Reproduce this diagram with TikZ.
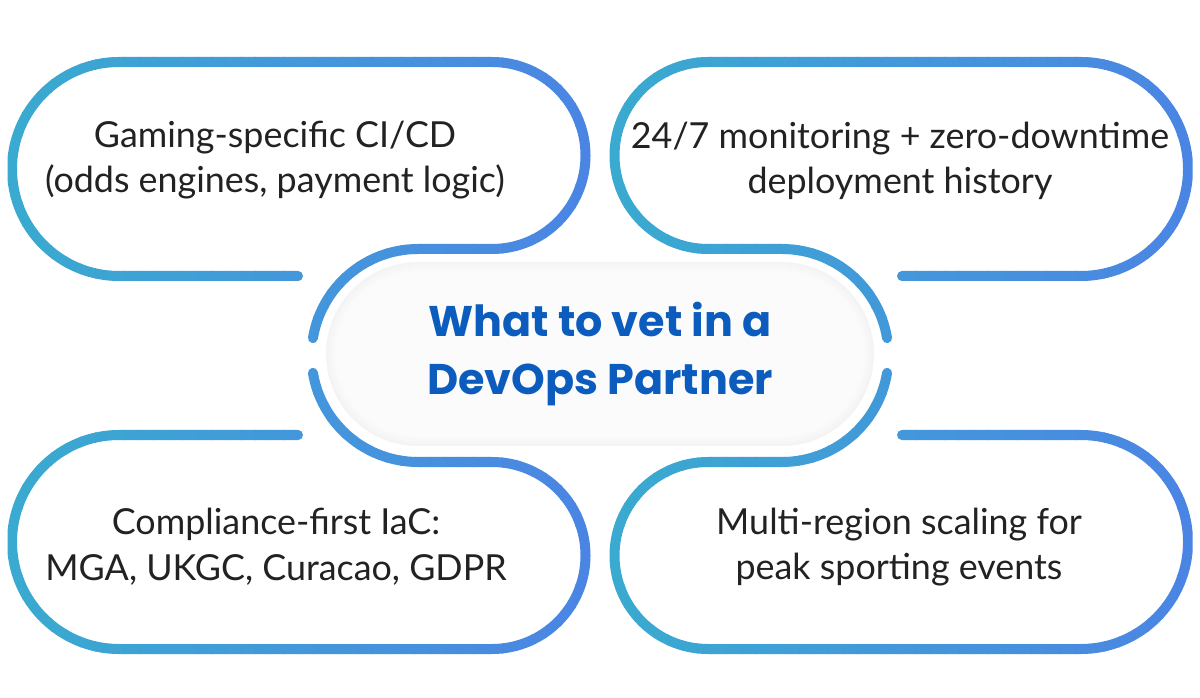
\documentclass[tikz,border=0pt]{standalone}
\usepackage{fontspec}
\setmainfont{Lato}
\newfontfamily\titlefont{Poppins}
\usepackage{tikz}
\definecolor{pillteal}{RGB}{58,170,208}
\definecolor{pillblue}{RGB}{75,133,228}
\definecolor{titleblue}{RGB}{12,92,190}
\definecolor{bodytext}{RGB}{34,34,34}
\tikzset{%
	pillline/.style  = {line width=0.25cm, line cap=round},
	pilltext/.style  = {align=center, text=bodytext, font=\fontsize{25.5}{32.5}\selectfont},
	titletext/.style = {align=center, text=titleblue, font=\titlefont\bfseries\fontsize{30.5}{41}\selectfont},
}
% stroke with a left-to-right colour ramp: xmin, xmax, path
\newcommand{\gradpath}[3]{%
	\foreach \i in {0,...,39}{
		\pgfmathsetmacro{\xa}{#1+(#2-#1)/40*\i-0.5}
		\pgfmathsetmacro{\xb}{#1+(#2-#1)/40*(\i+1)+0.5}
		\pgfmathtruncatemacro{\p}{100*\i/39}
		\begin{scope}
			\clip (\xa,0) rectangle (\xb,697);
			\draw[pillline, pillblue!\p!pillteal] #3;
		\end{scope}
	}
}

\begin{document}
\begin{tikzpicture}[x=0.025cm, y=0.025cm]
	\useasboundingbox (0,0) rectangle (1200,697);
	\fill[white] (0,0) rectangle (1200,697);
	\foreach \k in {0,...,10}{
		\pgfmathsetmacro{\r}{92-\k}
		\pgfmathsetmacro{\g}{9-0.6*\k}
		\fill[gray!\g] (418,343-\r) -- (782,343-\r) arc[start angle=-90, end angle=90, radius=\r]
			-- (418,343+\r) arc[start angle=90, end angle=270, radius=\r] -- cycle;
	}
	\gradpath{8}{590}{([shift={(418,341.5)}]170.6:106.5) arc[start angle=170.6, end angle=90, radius=106.5]
		-- (492,448) arc[start angle=-90, end angle=90, radius=93.5]
		-- (119,635) arc[start angle=90, end angle=270, radius=107] -- (298,421)}
	\gradpath{610}{1192}{([shift={(782,341.5)}]9.4:106.5) arc[start angle=9.4, end angle=90, radius=106.5]
		-- (708,448) arc[start angle=270, end angle=90, radius=93.5]
		-- (1081,635) arc[start angle=90, end angle=-90, radius=107] -- (902,421)}
	\gradpath{8}{590}{([shift={(418,341.5)}]189.4:106.5) arc[start angle=189.4, end angle=270, radius=106.5]
		-- (492,235) arc[start angle=90, end angle=-90, radius=93.5]
		-- (119,48) arc[start angle=270, end angle=90, radius=107] -- (298,262)}
	\gradpath{610}{1192}{([shift={(782,341.5)}]-9.4:106.5) arc[start angle=-9.4, end angle=-90, radius=106.5]
		-- (708,235) arc[start angle=90, end angle=270, radius=93.5]
		-- (1081,48) arc[start angle=-90, end angle=90, radius=107] -- (902,262)}
	\node[titletext] (title) at (600,343) {What to vet in a\\DevOps Partner};
	\node[pilltext] (gaming) at (275,537) {Gaming-specific CI/CD\\(odds engines, payment logic)};
	\node[pilltext] (monitoring) at (900,536) {24/7 monitoring + zero-downtime\\deployment history};
	\node[pilltext] (compliance) at (276,150) {Compliance-first IaC:\\MGA, UKGC, Curacao, GDPR};
	\node[pilltext] (scaling) at (899,150) {Multi-region scaling for\\peak sporting events};
\end{tikzpicture}
\end{document}
